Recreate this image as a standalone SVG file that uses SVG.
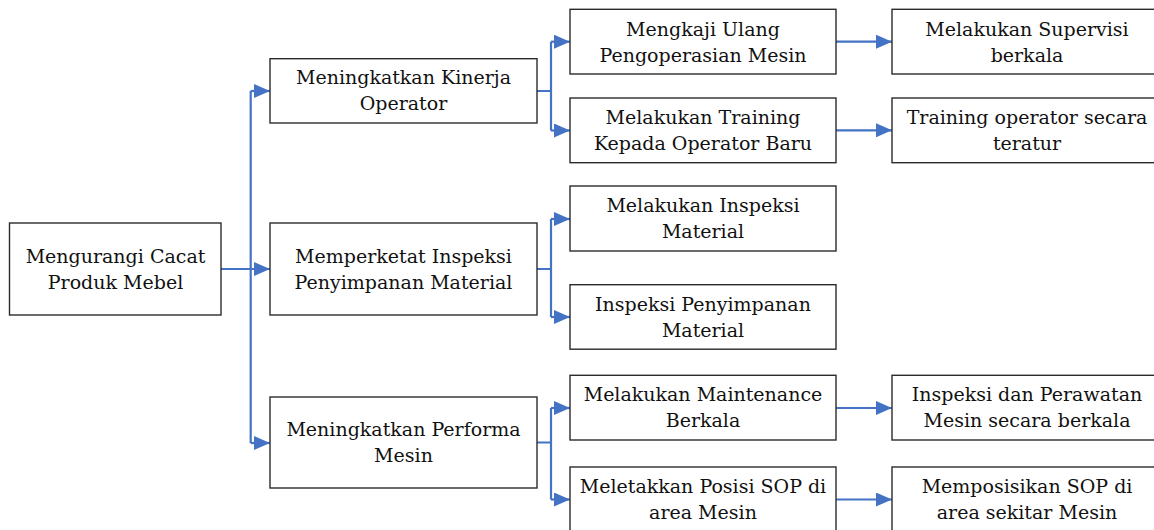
<svg xmlns="http://www.w3.org/2000/svg" width="1154" height="530" viewBox="0 0 1154 530">
<style>
.box{fill:#fff;stroke:#2b2b2b;stroke-width:1.4}
.t{font-family:"DejaVu Serif","Liberation Serif",serif;font-size:19px;fill:#111;text-anchor:middle}
.c{fill:none;stroke:#4472C4;stroke-width:2.2}
</style>
<defs>
<marker id="ah" markerUnits="userSpaceOnUse" markerWidth="16" markerHeight="14" refX="16" refY="7" orient="auto">
<path d="M0,0 L16,7 L0,14 z" fill="#4472C4"/>
</marker>
</defs>
<rect width="1154" height="530" fill="#fff"/>
<g id="connectors">
<path class="c" d="M221,269 H270" marker-end="url(#ah)"/>
<path class="c" d="M250.7,91 V443"/>
<path class="c" d="M250.7,91 H270" marker-end="url(#ah)"/>
<path class="c" d="M250.7,443 H270" marker-end="url(#ah)"/>
<path class="c" d="M537,91 H551 M551,41.7 V130.5"/>
<path class="c" d="M551,41.7 H570" marker-end="url(#ah)"/>
<path class="c" d="M551,130.5 H570" marker-end="url(#ah)"/>
<path class="c" d="M537,269 H551 M551,219 V317"/>
<path class="c" d="M551,219 H570" marker-end="url(#ah)"/>
<path class="c" d="M551,317 H570" marker-end="url(#ah)"/>
<path class="c" d="M537,442.5 H551 M551,408 V499.5"/>
<path class="c" d="M551,408 H570" marker-end="url(#ah)"/>
<path class="c" d="M551,499.5 H570" marker-end="url(#ah)"/>
<path class="c" d="M836,41.7 H892" marker-end="url(#ah)"/>
<path class="c" d="M836,130.3 H892" marker-end="url(#ah)"/>
<path class="c" d="M836,408 H892" marker-end="url(#ah)"/>
<path class="c" d="M836,499.5 H892" marker-end="url(#ah)"/>
</g>
<g id="root">
<rect class="box" x="9.5" y="223" width="211.5" height="92"/>
<text class="t" x="115.5" y="262.5">Mengurangi Cacat</text>
<text class="t" x="115.5" y="288.5">Produk Mebel</text>
</g>
<g id="n1">
<rect class="box" x="270" y="58.7" width="267" height="64.3"/>
<text class="t" x="403.5" y="84">Meningkatkan Kinerja</text>
<text class="t" x="403.5" y="110">Operator</text>
</g>
<g id="n2">
<rect class="box" x="270" y="223" width="267" height="92"/>
<text class="t" x="403.5" y="262.5">Memperketat Inspeksi</text>
<text class="t" x="403.5" y="288.5">Penyimpanan Material</text>
</g>
<g id="n3">
<rect class="box" x="270" y="397" width="267" height="91"/>
<text class="t" x="403.5" y="436">Meningkatkan Performa</text>
<text class="t" x="403.5" y="462">Mesin</text>
</g>
<g id="n1a">
<rect class="box" x="570" y="9.3" width="266" height="64.7"/>
<text class="t" x="703" y="35.5">Mengkaji Ulang</text>
<text class="t" x="703" y="61.5">Pengoperasian Mesin</text>
</g>
<g id="n1b">
<rect class="box" x="570" y="98" width="266" height="64.7"/>
<text class="t" x="703" y="124">Melakukan Training</text>
<text class="t" x="703" y="150">Kepada Operator Baru</text>
</g>
<g id="n2a">
<rect class="box" x="570" y="186" width="266" height="65"/>
<text class="t" x="703" y="212">Melakukan Inspeksi</text>
<text class="t" x="703" y="238">Material</text>
</g>
<g id="n2b">
<rect class="box" x="570" y="284.7" width="266" height="64.5"/>
<text class="t" x="703" y="310.5">Inspeksi Penyimpanan</text>
<text class="t" x="703" y="336.5">Material</text>
</g>
<g id="n3a">
<rect class="box" x="570" y="375.3" width="266" height="64.7"/>
<text class="t" x="703" y="401">Melakukan Maintenance</text>
<text class="t" x="703" y="427">Berkala</text>
</g>
<g id="n3b">
<rect class="box" x="570" y="467" width="266" height="70"/>
<text class="t" x="703" y="493">Meletakkan Posisi SOP di</text>
<text class="t" x="703" y="519">area Mesin</text>
</g>
<g id="n1a1">
<rect class="box" x="892" y="9.3" width="270" height="64.7"/>
<text class="t" x="1027" y="35.5">Melakukan Supervisi</text>
<text class="t" x="1027" y="61.5">berkala</text>
</g>
<g id="n1b1">
<rect class="box" x="892" y="98" width="270" height="64.7"/>
<text class="t" x="1027" y="124">Training operator secara</text>
<text class="t" x="1027" y="150">teratur</text>
</g>
<g id="n3a1">
<rect class="box" x="892" y="375.3" width="270" height="64.7"/>
<text class="t" x="1027" y="401">Inspeksi dan Perawatan</text>
<text class="t" x="1027" y="427">Mesin secara berkala</text>
</g>
<g id="n3b1">
<rect class="box" x="892" y="467" width="270" height="70"/>
<text class="t" x="1027" y="493">Memposisikan SOP di</text>
<text class="t" x="1027" y="519">area sekitar Mesin</text>
</g>
</svg>
